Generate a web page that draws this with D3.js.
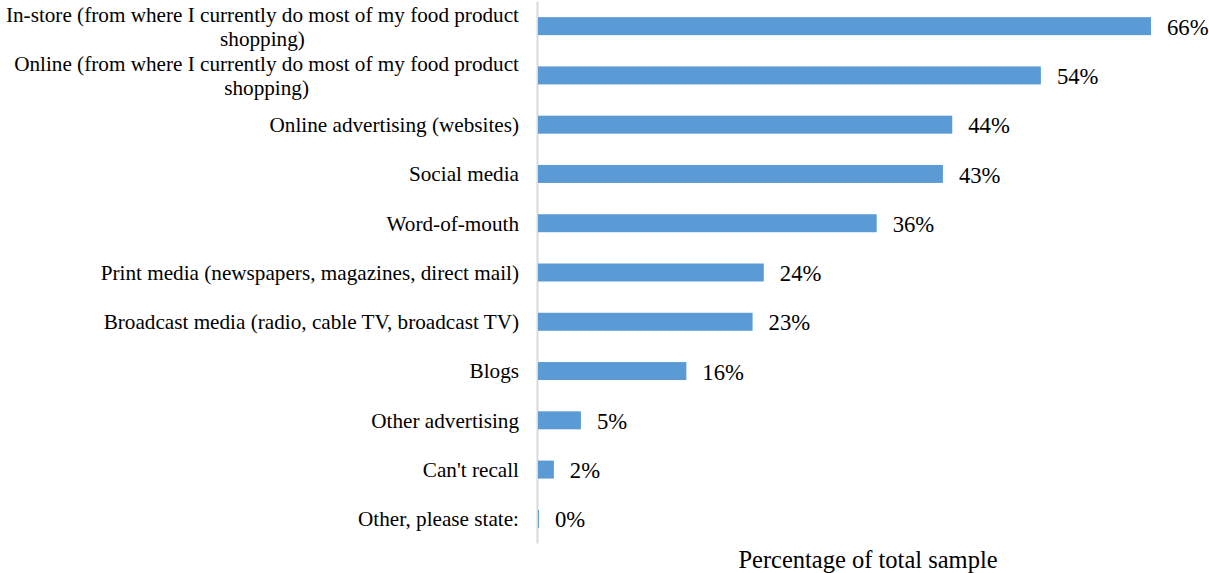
<!DOCTYPE html>
<html><head><meta charset="utf-8">
<script src="https://cdn.jsdelivr.net/npm/d3@7"></script>
<style>body{margin:0;background:#fff}svg{display:block}text{font-family:"Liberation Serif","Times New Roman",serif;fill:#000}</style>
</head><body>
<svg id="c" width="1209" height="573"></svg>
<script>
const categories = [
  "In-store (from where I currently do most of my food product shopping)",
  "Online (from where I currently do most of my food product shopping)",
  "Online advertising (websites)",
  "Social media",
  "Word-of-mouth",
  "Print media (newspapers, magazines, direct mail)",
  "Broadcast media (radio, cable TV, broadcast TV)",
  "Blogs",
  "Other advertising",
  "Can't recall",
  "Other, please state:"
];
const values = [65.7, 53.9, 44.4, 43.4, 36.3, 24.2, 23.0, 15.9, 4.6, 1.7, 0.1];
const axisTitle = "Percentage of total sample";

const svg = d3.select("#c");
const x0 = 538;
const x = d3.scaleLinear().domain([0, 70]).range([x0, x0 + 653.1]);
const y = d3.scaleBand().domain(categories).range([1.5, 543.5]).paddingInner(0.635).paddingOuter(0.3175);

// axis line
svg.append("line").attr("x1", x0 - 0.5).attr("x2", x0 - 0.5).attr("y1", 1.5).attr("y2", 543.5)
  .attr("stroke", "#d9d9d9").attr("stroke-width", 2);

// bars
svg.selectAll("rect.bar").data(values).join("rect").attr("class", "bar")
  .attr("x", x(0)).attr("y", (d, i) => y(categories[i]))
  .attr("width", d => x(d) - x(0)).attr("height", y.bandwidth())
  .attr("fill", "#5b9bd5");

// value labels
const fmt = d3.format(".0f");
svg.selectAll("text.val").data(values).join("text").attr("class", "val")
  .attr("x", d => x(d) + 16).attr("y", (d, i) => y(categories[i]) + y.bandwidth() / 2)
  .attr("dy", "0.38em").attr("font-size", 22.7)
  .text(d => fmt(d) + "%");

// category labels with wrapping
const maxW = 518, lineH = 24, labelX = 519;
categories.forEach((c, i) => {
  const cy = y(c) + y.bandwidth() / 2;
  const t = svg.append("text").attr("font-size", 21.2).attr("text-anchor", "middle");
  const words = c.split(" ");
  let lines = [], cur = [];
  const probe = t.append("tspan");
  words.forEach(w => {
    cur.push(w);
    probe.text(cur.join(" "));
    if (probe.node().getComputedTextLength() > maxW && cur.length > 1) {
      cur.pop(); lines.push(cur.join(" ")); cur = [w];
    }
  });
  lines.push(cur.join(" "));
  probe.remove();
  let widths = lines.map(l => { const p = t.append("tspan").text(l); const w = p.node().getComputedTextLength(); p.remove(); return w; });
  const bw = d3.max(widths);
  const cx = labelX - bw / 2;
  const top = cy - (lines.length - 1) * lineH / 2;
  lines.forEach((l, k) => {
    t.append("tspan").attr("x", lines.length > 1 ? cx : labelX).attr("y", top + k * lineH).attr("dy", "0.35em").text(l);
  });
  if (lines.length === 1) t.attr("text-anchor", "end");
});

// axis title
svg.append("text").attr("x", 868).attr("y", 568).attr("text-anchor", "middle").attr("font-size", 24.5).text(axisTitle);
</script>
</body></html>
